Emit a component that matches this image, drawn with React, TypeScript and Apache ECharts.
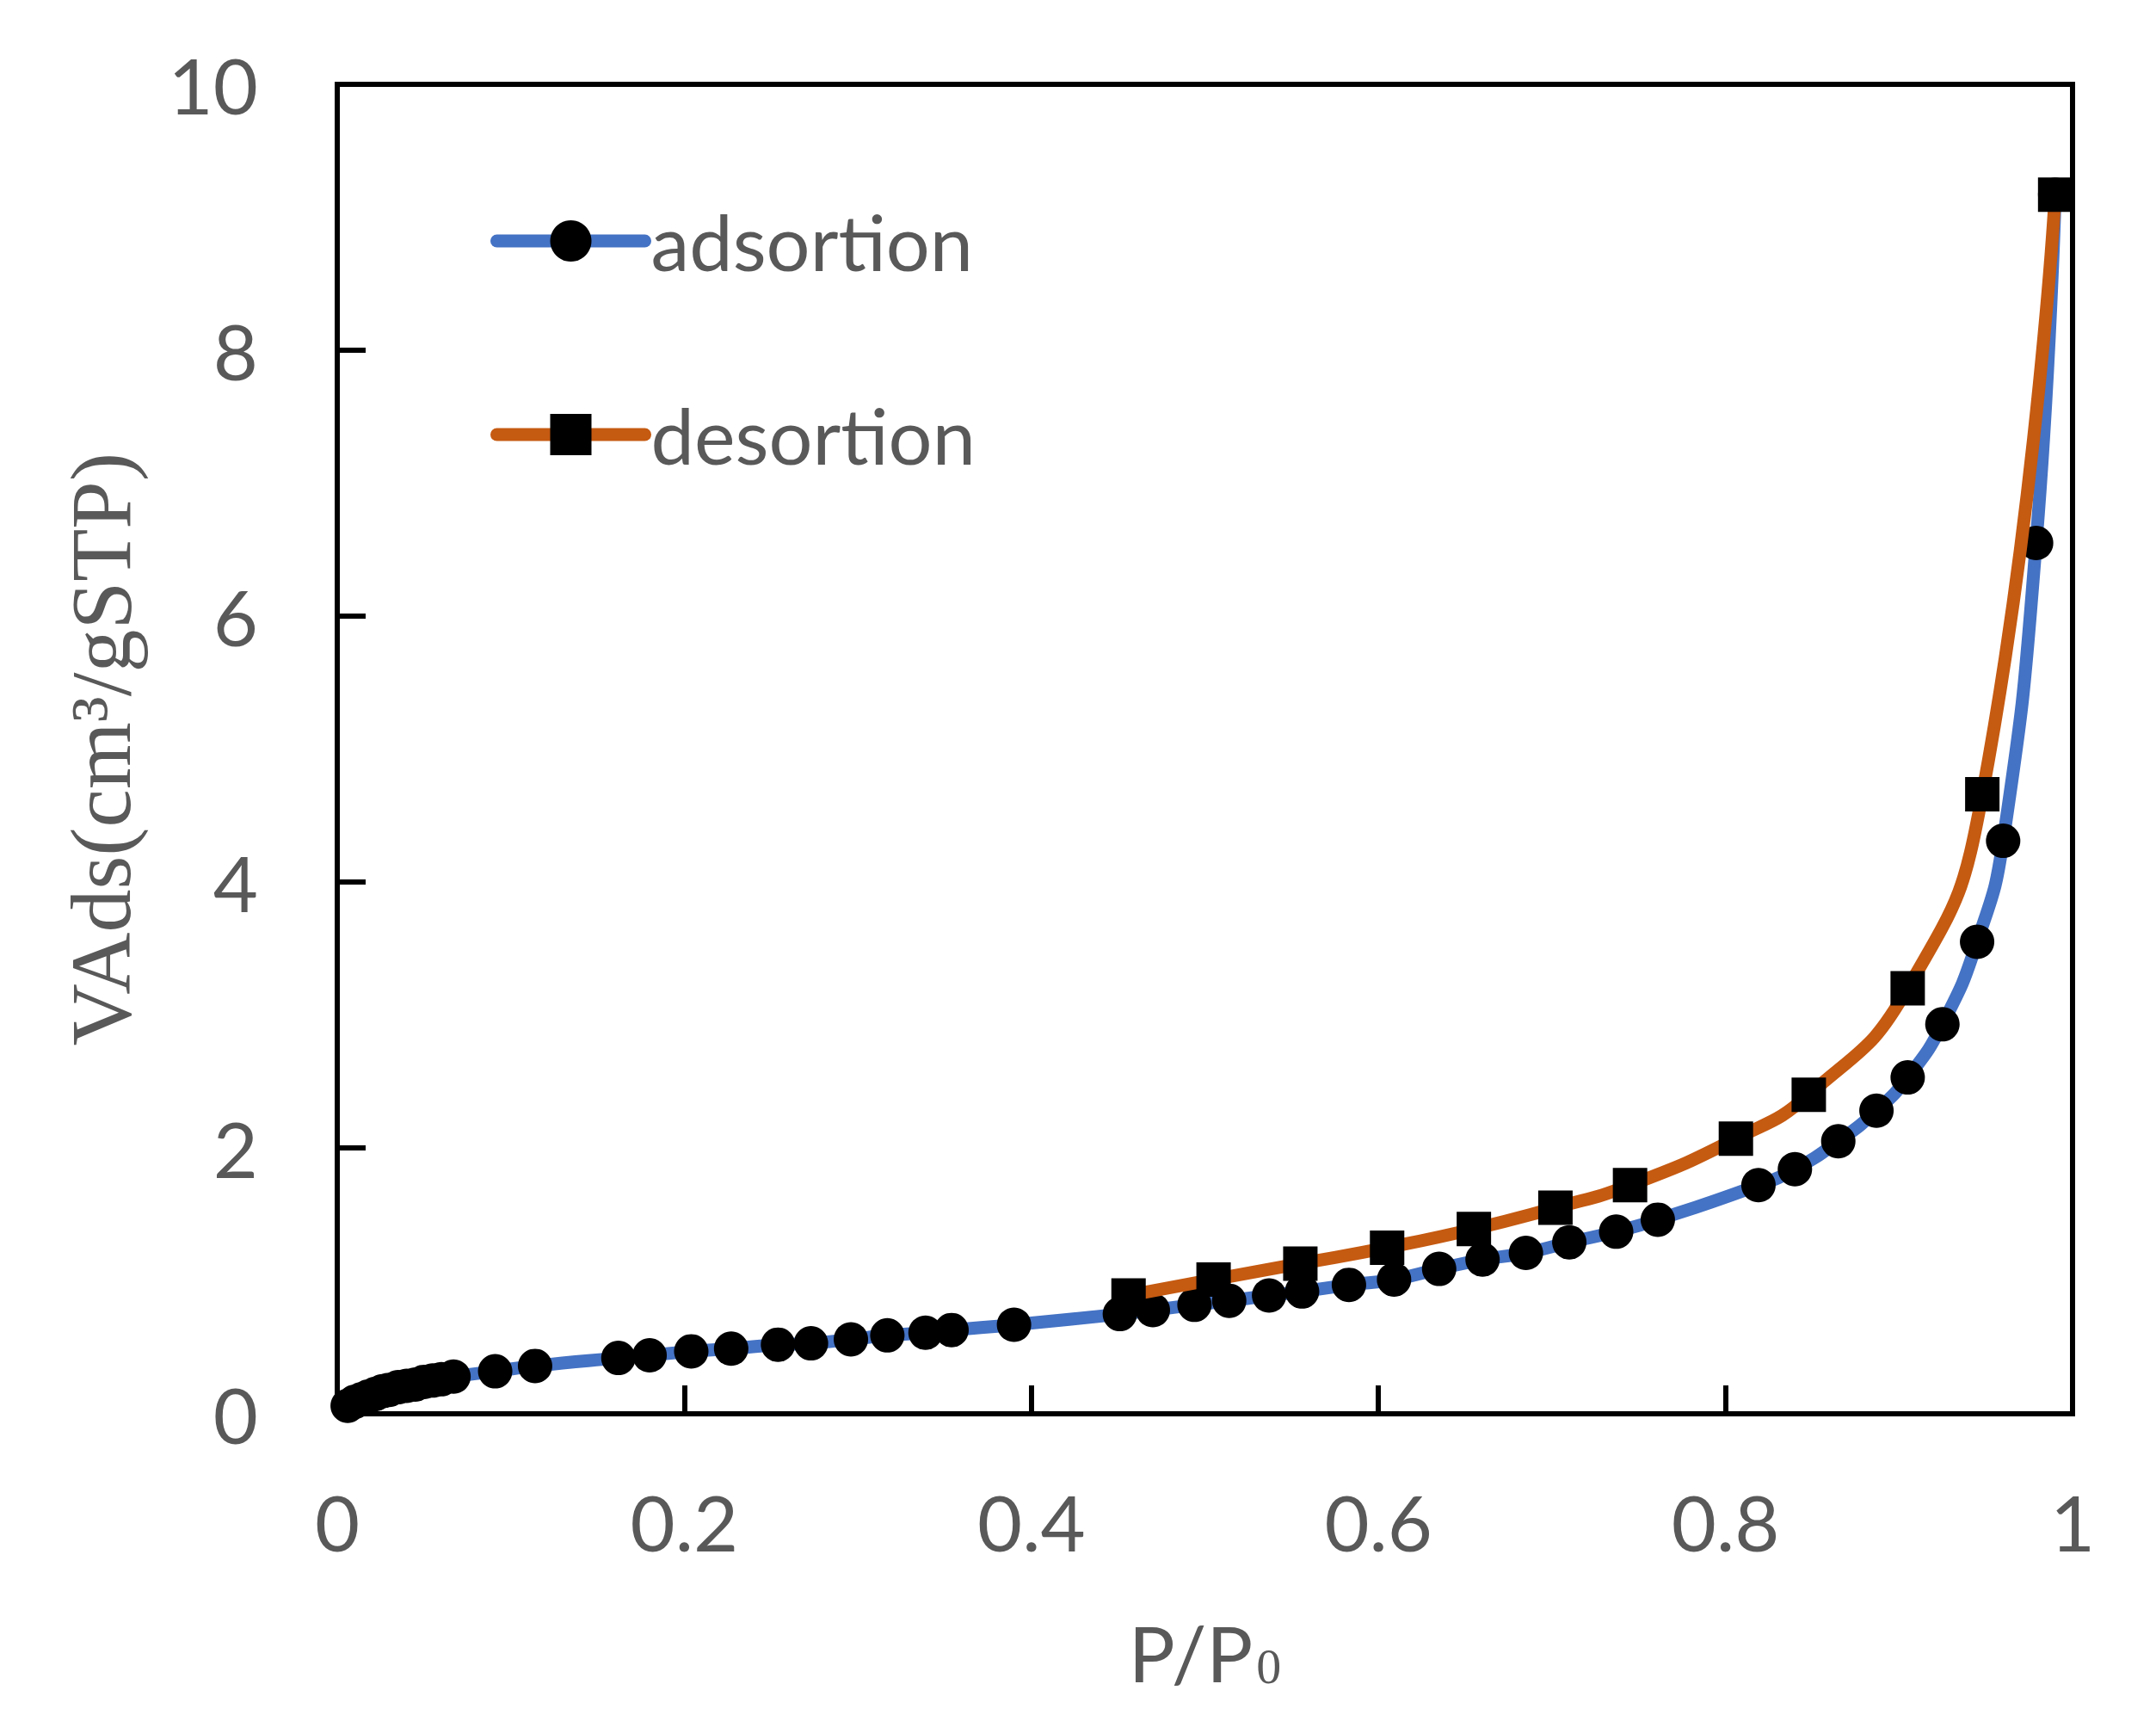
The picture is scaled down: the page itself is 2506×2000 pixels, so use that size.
import React, { useEffect, useRef } from "react";
import * as echarts from "echarts";

// Adsorption branch: relative pressure P/P0 and adsorbed volume (cm³/g STP)
const adsX = [
  0.006, 0.010, 0.014, 0.018, 0.022, 0.026, 0.030, 0.035, 0.040, 0.045, 0.050, 0.055, 0.060, 0.067,
  0.091, 0.114, 0.162, 0.180, 0.204, 0.227, 0.254, 0.273, 0.296, 0.317, 0.339, 0.354, 0.390,
  0.451, 0.470, 0.494, 0.514, 0.537, 0.556, 0.583, 0.609, 0.635, 0.660, 0.685, 0.710, 0.737, 0.761,
  0.819, 0.840, 0.865, 0.887, 0.905, 0.925, 0.945, 0.960, 0.979, 0.990,
];
const adsY = [
  0.06, 0.09, 0.11, 0.13, 0.15, 0.17, 0.18, 0.20, 0.21, 0.22, 0.24, 0.25, 0.26, 0.28,
  0.32, 0.36, 0.42, 0.44, 0.47, 0.49, 0.52, 0.53, 0.56, 0.59, 0.61, 0.63, 0.67,
  0.75, 0.78, 0.82, 0.85, 0.89, 0.92, 0.97, 1.01, 1.09, 1.16, 1.21, 1.29, 1.37, 1.46,
  1.72, 1.84, 2.05, 2.28, 2.53, 2.93, 3.55, 4.31, 6.55, 9.17,
];

// Desorption branch
const desX = [0.990, 0.948, 0.905, 0.848, 0.806, 0.745, 0.702, 0.655, 0.605, 0.555, 0.505, 0.456];
const desY = [9.17, 4.66, 3.20, 2.40, 2.07, 1.72, 1.55, 1.39, 1.25, 1.13, 1.01, 0.89];

const xTicks = [0, 0.2, 0.4, 0.6, 0.8, 1];
const yTicks = [0, 2, 4, 6, 8, 10];

const seriesNames = ["adsortion", "desortion"];
const seriesColors = ["#4472C4", "#C55A11"];

const SANS = "Lato";
const SERIF = "Liberation Serif";
const GREY = "#595959";

export default function App() {
  const ref = useRef<HTMLDivElement>(null);

  useEffect(() => {
    document.body.style.margin = "0";
    if (!ref.current) return;
    const chart = echarts.init(ref.current, undefined, { renderer: "svg" });

    const ads = adsX.map((x, i) => [x, adsY[i]]);
    const des = desX.map((x, i) => [x, desY[i]]);

    chart.setOption({
      animation: false,
      backgroundColor: "#ffffff",
      grid: {
        left: 392,
        right: 97,
        top: 98,
        bottom: 357,
        show: true,
        borderColor: "#000",
        borderWidth: 6,
        backgroundColor: "transparent",
      },
      legend: {
        orient: "vertical",
        left: 565,
        top: 230,
        itemWidth: 172,
        itemHeight: 60,
        itemGap: 135,
        data: seriesNames,
        textStyle: {
          fontFamily: SANS,
          fontSize: 90,
          color: GREY,
          padding: [0, 0, 0, 2],
        },
        lineStyle: { width: 15, color: "inherit", cap: "round" },
        selectedMode: false,
      },
      xAxis: {
        type: "value",
        min: xTicks[0],
        max: xTicks[xTicks.length - 1],
        interval: 0.2,
        name: "{a|P/P}{b|0}",
        nameLocation: "middle",
        nameGap: 222,
        nameTextStyle: {
          rich: {
            a: { fontFamily: SANS, fontSize: 90, color: GREY, verticalAlign: "bottom", lineHeight: 100 },
            b: { fontFamily: SERIF, fontSize: 58, color: GREY, verticalAlign: "bottom", lineHeight: 100, padding: [0, 0, 0, 4] },
          },
        },
        axisLine: { show: true, lineStyle: { color: "#000", width: 6 } },
        axisTick: { show: true, inside: true, length: 33, lineStyle: { color: "#000", width: 6 } },
        axisLabel: {
          fontFamily: SANS,
          fontSize: 90,
          color: GREY,
          margin: 80,
          formatter: (v: number) => String(Math.round(v * 10) / 10),
        },
        splitLine: { show: false },
      },
      yAxis: {
        type: "value",
        min: yTicks[0],
        max: yTicks[yTicks.length - 1],
        interval: 2,
        name: "VAds(cm³/gSTP)",
        nameLocation: "middle",
        nameGap: 225,
        nameTextStyle: { fontFamily: SERIF, fontSize: 100, color: GREY },
        axisLine: { show: true, lineStyle: { color: "#000", width: 6 } },
        axisTick: { show: true, inside: true, length: 33, lineStyle: { color: "#000", width: 6 } },
        axisLabel: { fontFamily: SANS, fontSize: 90, color: GREY, margin: 92 },
        splitLine: { show: false },
      },
      series: [
        {
          name: seriesNames[0],
          type: "line",
          data: ads,
          smooth: 0.5,
          symbol: "circle",
          symbolSize: 40,
          showAllSymbol: true,
          color: seriesColors[0],
          lineStyle: { color: seriesColors[0], width: 15 },
          itemStyle: { color: "#000", borderWidth: 0 },
          clip: false,
          z: 2,
        },
        {
          name: seriesNames[1],
          type: "line",
          data: des,
          smooth: 0.5,
          symbol: "rect",
          symbolSize: 40,
          showAllSymbol: true,
          color: seriesColors[1],
          lineStyle: { color: seriesColors[1], width: 15 },
          itemStyle: { color: "#000", borderWidth: 0 },
          clip: false,
          z: 3,
        },
      ],
    });

    return () => chart.dispose();
  }, []);

  return <div ref={ref} style={{ width: 2506, height: 2000 }} />;
}
